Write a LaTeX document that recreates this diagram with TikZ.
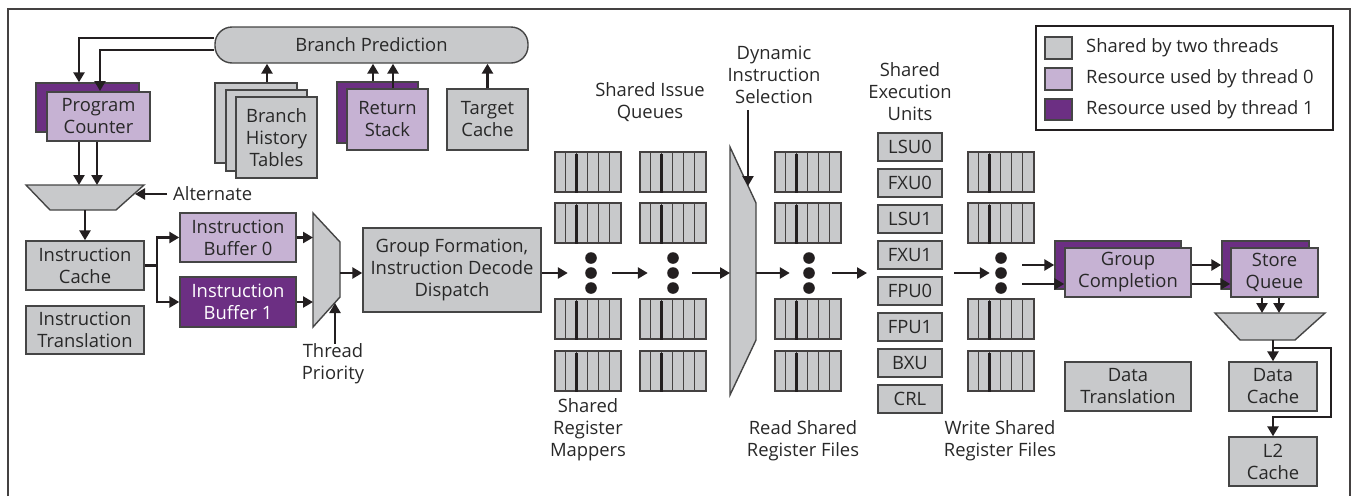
\documentclass[tikz,border=0pt]{standalone}
\usepackage{fontspec}
\setmainfont{Open Sans}
\usetikzlibrary{arrows.meta,calc}
\definecolor{boxgray}{HTML}{C8C9CB}
\definecolor{lpurp}{HTML}{C6B2D3}
\definecolor{dpurp}{HTML}{6C2F83}
\definecolor{edgec}{HTML}{454545}
\definecolor{ink}{HTML}{231F20}
\definecolor{txt}{HTML}{282828}
\newcommand{\myfs}{\fontsize{18.4}{22}\selectfont}
\newcommand{\bx}[7]{\node[#6, minimum width={(#4-#2)*1pt}, minimum height={(#5-#3)*1pt}] (#1) at ({(#2+#4)/2},{(#3+#5)/2}) {#7};}
\newcommand{\regb}[3]{%
  \node[regbox] (#1) at ({#2+33},{#3+20}) {};
  \foreach \k in {1,...,5} \draw[regline] ($(#1.north west)+(\k*11,0)$) -- ($(#1.south west)+(\k*11,0)$);
  \draw[line width=3.6pt, draw=ink] ($(#1.north west)+(22,3)$) -- ($(#1.south west)+(22,0)$);
}
\tikzset{
  base/.style={draw=edgec, line width=1.4pt, inner sep=0pt, align=center, text=txt, font=\myfs},
  gbox/.style={base, fill=boxgray},
  lbox/.style={base, fill=lpurp},
  dbox/.style={base, fill=dpurp, text=white},
  arr/.style={draw=ink, line width=2.8pt, -{Triangle[length=10pt,width=11pt]}},
  ln/.style={draw=ink, line width=2.8pt},
  lbl/.style={align=center, text=txt, inner sep=0pt, font=\myfs},
  mux/.style={draw=edgec, line width=1.4pt, fill=boxgray, line join=miter},
  regbox/.style={draw=ink!85, line width=1.2pt, fill=boxgray, minimum width=66pt, minimum height=40pt, inner sep=0pt},
  regline/.style={draw=ink!85, line width=1.1pt},
  dotcol/.style={inner sep=0pt, minimum height=40pt}
}
\begin{document}
\begin{tikzpicture}[x=1pt,y=-1pt]
\useasboundingbox (0,0) rectangle (1353,496);
% frame
\draw[line width=1.6pt, draw=ink!85] (8,496) -- (8,9) -- (1350,9) -- (1350,496);

% branch prediction area
\bx{BP}{215}{27}{528}{63}{gbox, rounded corners=17pt}{Branch Prediction}
\bx{PCb}{36}{83}{139}{132}{dbox}{}
\bx{PCf}{47}{92}{150}{141}{lbox}{Program\\Counter}
\bx{BHTa}{215}{83}{297}{163}{gbox}{}
\bx{BHTb}{226}{90}{307}{171}{gbox}{}
\bx{BHTc}{236}{97}{317}{178}{gbox}{Branch\\History\\Tables}
\bx{RSb}{337}{82}{418}{143}{dbox}{}
\bx{RSf}{347}{89}{428}{150}{lbox}{Return\\Stack}
\bx{TC}{447}{89}{528}{150}{gbox}{Target\\Cache}

% fetch
\draw[mux] (26,185) coordinate (m1tl) -- (144,185) coordinate (m1tr) -- (116,210) -- (50,210) -- cycle;
\coordinate (m1b) at (85,210);
\coordinate (m1r) at (135,194);
\bx{IC}{26}{241}{144}{290}{gbox}{Instruction\\Cache}
\bx{IT}{26}{306}{144}{354}{gbox}{Instruction\\Translation}
\bx{IBa}{180}{213}{296}{262}{lbox}{Instruction\\Buffer 0}
\bx{IBb}{180}{277}{296}{327}{dbox}{Instruction\\Buffer 1}
\draw[mux] (313,213) coordinate (m2tl) -- (340,242) -- (340,297) -- (313,327) -- cycle;
\coordinate (m2out) at (340,273);
\coordinate (m2tp) at (335,303);
\bx{GF}{363}{228}{541}{312}{gbox}{Group Formation,\\Instruction Decode\\Dispatch}

% register files
\regb{RAa}{555}{152} \regb{RAb}{555}{203} \regb{RAc}{555}{299} \regb{RAd}{555}{351}
\regb{RBa}{640}{152} \regb{RBb}{640}{203} \regb{RBc}{640}{299} \regb{RBd}{640}{351}
\regb{RCa}{775}{152} \regb{RCb}{775}{203} \regb{RCc}{775}{299} \regb{RCd}{775}{351}
\regb{RDa}{968}{152} \regb{RDb}{968}{203} \regb{RDc}{968}{299} \regb{RDd}{968}{351}

\node[dotcol, minimum width=44pt] (dca) at (590,273) {};
\node[dotcol, minimum width=44pt] (dcb) at (670,273) {};
\node[dotcol, minimum width=42pt] (dcc) at (811,273) {};
\node[dotcol, minimum width=32pt] (dcd) at (1006,273) {};
\foreach \x in {591,673,809,1001} \foreach \y in {258,273,288} \fill[ink] (\x,\y) circle[radius=5.8pt];

\draw[mux] (730,147) -- (756,203) -- (756,340) -- (730,395) -- cycle;
\coordinate (m3l) at (730,273);
\coordinate (m3r) at (756,273);
\coordinate (m3top) at (748,186);

% execution units
\bx{LSUa}{878}{133}{942}{161}{gbox}{LSU0}
\bx{FXUa}{878}{169}{942}{197}{gbox}{FXU0}
\bx{LSUb}{878}{205}{942}{233}{gbox}{LSU1}
\bx{FXUb}{878}{241}{942}{269}{gbox}{FXU1}
\bx{FPUa}{878}{277}{942}{305}{gbox}{FPU0}
\bx{FPUb}{878}{313}{942}{341}{gbox}{FPU1}
\bx{BXU}{878}{349}{942}{377}{gbox}{BXU}
\bx{CRL}{878}{385}{942}{413}{gbox}{CRL}
\coordinate (euin) at (867,273);
\coordinate (euout) at (954,273);

% completion / store
\bx{GCb}{1055}{241}{1181}{289}{dbox}{}
\bx{GCf}{1065}{248}{1191}{297}{lbox}{Group\\Completion}
\bx{SQb}{1222}{241}{1309}{289}{dbox}{}
\bx{SQf}{1231}{248}{1318}{297}{lbox}{Store\\Queue}
\draw[mux] (1215,313) -- (1325,313) -- (1295,340) -- (1240,340) -- cycle;
\coordinate (m4b) at (1273,340);
\coordinate (m4j) at (1273,348);
\bx{DT}{1065}{362}{1191}{411}{gbox}{Data\\Translation}
\bx{DC}{1229}{362}{1317}{411}{gbox}{Data\\Cache}
\bx{LL}{1229}{437}{1317}{486}{gbox}{L2\\Cache}

% labels
\node[lbl, anchor=west] (ALT) at (173,194) {Alternate};
\node[lbl] (TP) at (333,364) {Thread\\Priority};
\node[lbl] (SIQ) at (650,102) {Shared Issue\\Queues};
\node[lbl] (DIS) at (774,75) {Dynamic\\Instruction\\Selection};
\node[lbl] (SEU) at (910,92) {Shared\\Execution\\Units};
\node[lbl] (SRM) at (588,430) {Shared\\Register\\Mappers};
\node[lbl] (RSR) at (803,441) {Read Shared\\Register Files};
\node[lbl] (WSR) at (1000,441) {Write Shared\\Register Files};

% legend
\node[draw=ink, line width=2.2pt, minimum width=297pt, minimum height=104pt, inner sep=0pt] (LEG) at (1184.5,78) {};
\bx{SWa}{1045}{37}{1072}{59}{gbox}{}
\bx{SWb}{1045}{68}{1072}{90}{lbox}{}
\bx{SWc}{1045}{99}{1072}{120}{dbox}{}
\node[lbl, anchor=west] (LTa) at (1086,48) {Shared by two threads};
\node[lbl, anchor=west] (LTb) at (1086,79) {Resource used by thread 0};
\node[lbl, anchor=west] (LTc) at (1086,110) {Resource used by thread 1};

% connectors
\draw[arr] (BP.west |- 0,38) -| (79,0 |- PCb.north);
\draw[arr] (BP.west |- 0,50) -| (100,91);
\draw[arr] (267,0 |- BHTa.north) -- (267,0 |- BP.south);
\draw[arr] (373,0 |- RSb.north) -- (373,0 |- BP.south);
\draw[arr] (393,0 |- RSf.north) -- (393,0 |- BP.south);
\draw[arr] (TC.north) -- (TC.north |- BP.south);
\draw[arr] (79,0 |- PCf.south) -- (79,0 |- m1tl);
\draw[arr] (97,0 |- PCf.south) -- (97,0 |- m1tl);
\draw[arr] ($(ALT.west)+(-6,0)$) -- (m1r);
\draw[arr] (m1b) -- (IC.north);
\draw[ln] (IC.east) -- (157,0 |- IC.east);
\draw[arr] (157,0 |- IC.east) |- (IBa.west);
\draw[arr] (157,0 |- IC.east) |- (IBb.west);
\draw[arr] (IBa.east) -- (IBa.east -| m2tl);
\draw[arr] (IBb.east) -- (IBb.east -| m2tl);
\draw[arr] (335,0 |- TP.north) -- (m2tp);
\draw[arr] (m2out) -- (GF.west |- m2out);
\draw[arr] (GF.east |- dca.west) -- (dca.west);
\draw[arr] (dca.east) -- (dcb.west);
\draw[arr] (dcb.east) -- (m3l);
\draw[arr] (748,0 |- DIS.south) ++(0,6) -- (m3top);
\draw[arr] (m3r) -- (dcc.west);
\draw[arr] (dcc.east) -- (euin);
\draw[arr] (euout) -- (dcd.west);
\draw[arr] (dcd.east |- 0,265) -- (GCb.west |- 0,265);
\draw[arr] (dcd.east |- 0,284) -- (GCf.west |- 0,284);
\draw[arr] (GCf.east |- 0,265) -- (SQb.west |- 0,265);
\draw[arr] (GCf.east |- 0,284) -- (SQf.west |- 0,284);
\draw[arr] (1262,0 |- SQf.south) -- (1262,313);
\draw[arr] (1279,0 |- SQf.south) -- (1279,313);
\draw[arr] (m4b) -- (DC.north);
\draw[arr] (m4j) -| (1331,417) -| (LL.north);
\end{tikzpicture}
\end{document}
